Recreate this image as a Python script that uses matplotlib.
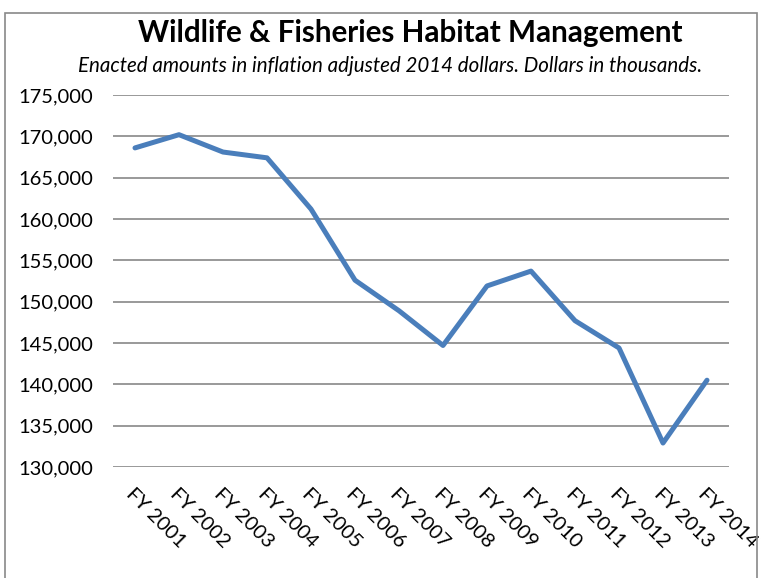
import matplotlib.pyplot as plt
import matplotlib.patches as patches
from matplotlib.ticker import FuncFormatter

years = ['FY 2001', 'FY 2002', 'FY 2003', 'FY 2004', 'FY 2005', 'FY 2006', 'FY 2007',
         'FY 2008', 'FY 2009', 'FY 2010', 'FY 2011', 'FY 2012', 'FY 2013', 'FY 2014']
amounts = [168600, 170200, 168100, 167400, 161200, 152600, 148900,
           144700, 151900, 153700, 147700, 144400, 132900, 140500]
yticks = [130000, 135000, 140000, 145000, 150000, 155000, 160000, 165000, 170000, 175000]

plt.rcParams['font.family'] = ['Lato', 'DejaVu Sans']

fig = plt.figure(figsize=(7.65, 5.78), dpi=100, facecolor='w')
ax = fig.add_axes([113/765, 1-467/578, (729-113)/765, (467-95)/578])

# outer chart frame
fig.patches.append(patches.Rectangle((5/765, -0.05), (757-5)/765, 1.05-13/578,
                                     transform=fig.transFigure, fill=False,
                                     edgecolor='#898989', linewidth=1.2))

x = list(range(len(years)))
ax.plot(x, amounts, color='#4A7EBB', linewidth=3.6, solid_joinstyle='round',
        solid_capstyle='round', zorder=3)

ax.set_xlim(-0.5, len(years) - 0.5)
ax.set_ylim(130000, 175000)
ax.set_yticks(yticks)
ax.yaxis.set_major_formatter(FuncFormatter(lambda v, p: '{:,.0f}'.format(v)))
ax.set_xticks(x)
ax.set_xticklabels(years, rotation=-45, ha='left', va='top', rotation_mode='anchor')
ax.tick_params(axis='both', length=0, labelsize=14.5, colors='black')
ax.tick_params(axis='y', pad=14)
ax.tick_params(axis='x', pad=13)

ax.grid(axis='y', color='#878787', linewidth=1.2)
ax.set_axisbelow(True)
for s in ax.spines.values():
    s.set_visible(False)

fig.text(410/765, 1-33/578, 'Wildlife & Fisheries Habitat Management', ha='center', va='center',
         fontsize=21.3, fontweight='bold')
fig.text(390/765, 1-66/578, 'Enacted amounts in inflation adjusted 2014 dollars. Dollars in thousands.',
         ha='center', va='center', fontsize=14.8, style='italic')

fig.savefig('out.png', dpi=100)
